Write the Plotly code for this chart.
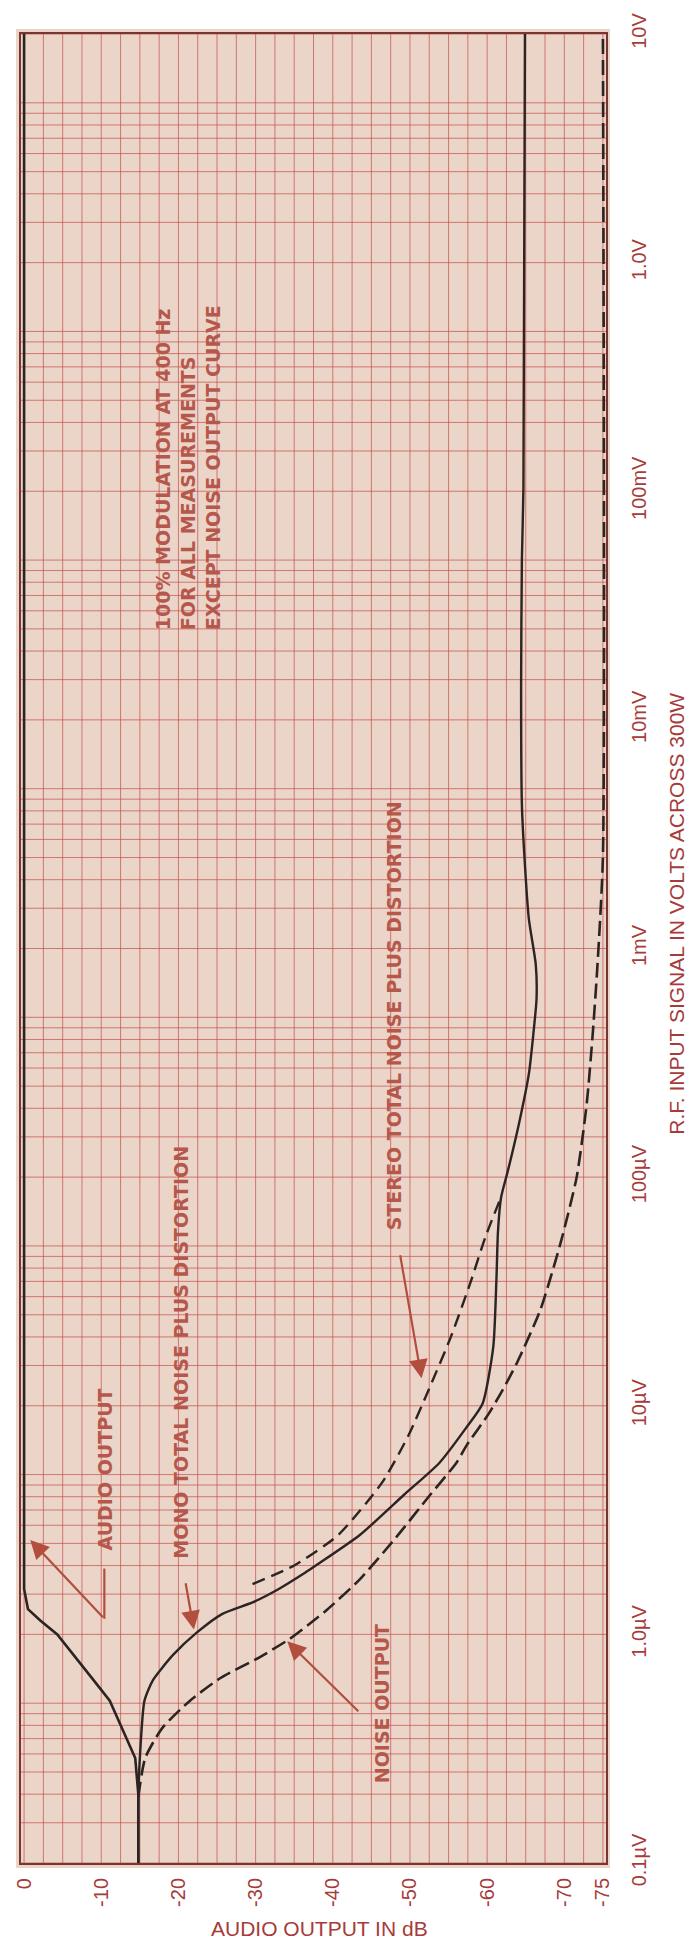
import math
import plotly.graph_objects as go

# ---------------- data ----------------
# R.F. input in volts (y, log axis) and audio output in dB (x)
AUDIO_V = [1.0e-7, 2.0e-7, 2.88e-7, 3.63e-7, 5.13e-7, 6.31e-7, 8.13e-7, 1.0e-6,
           1.15e-6, 1.29e-6, 1.58e-6, 10]
AUDIO_DB = [-14.8, -14.8, -14.4, -13.1, -11.1, -9.0, -6.4, -4.3, -2.1, -0.5, 0, 0]

MONO_V = [1.0e-7, 2.0e-7, 2.88e-7, 5.13e-7, 6.31e-7, 8.13e-7, 1.02e-6, 1.23e-6,
          1.38e-6, 1.58e-6, 1.86e-6, 2.0e-6, 2.72e-6, 4.07e-6, 5.62e-6, 7.94e-6,
          1.02e-5, 1.82e-5, 3.55e-5, 5.75e-5, 8.13e-5, 1.07e-4, 1.70e-4, 2.82e-4,
          4.27e-4, 6.03e-4, 8.51e-4, 1.35e-3, 2.63e-3, 4.27e-3, 1.38e-2, 5.01e-2,
          0.102, 10]
MONO_DB = [-14.8, -14.8, -15.0, -15.6, -16.7, -19.3, -22.4, -25.7, -29.6, -33.0,
           -36.4, -37.8, -43.5, -49.2, -53.8, -57.2, -59.4, -60.8, -61.2, -61.4,
           -61.8, -62.7, -64.1, -65.4, -66.0, -66.4, -66.3, -65.4, -64.8, -64.5,
           -64.4, -64.5, -64.7, -64.9]

STEREO_V = [1.66e-6, 2.0e-6, 2.72e-6, 4.62e-6, 7.41e-6, 1.17e-5, 2.0e-5, 3.43e-5,
            5.5e-5, 8.18e-5]
STEREO_DB = [-29.6, -35.0, -40.7, -46.4, -49.8, -52.4, -55.3, -57.8, -59.8, -61.8]

NOISE_V = [1.95e-7, 2.88e-7, 3.89e-7, 5.13e-7, 6.46e-7, 7.94e-7, 9.55e-7, 1.10e-6,
           1.26e-6, 1.74e-6, 2.63e-6, 4.07e-6, 5.62e-6, 6.76e-6, 9.12e-6, 1.17e-5,
           1.55e-5, 2.63e-5, 5.13e-5, 1.0e-4, 2.09e-4, 4.32e-4, 8.51e-4, 2.51e-3, 10]
NOISE_DB = [-14.8, -15.7, -17.9, -21.5, -25.5, -30.5, -34.4, -36.8, -39.0, -43.5,
            -48.1, -52.6, -56.0, -57.4, -60.1, -62.0, -63.9, -66.9, -69.5, -71.6,
            -72.9, -73.7, -74.3, -75.0, -75.0]

# axis ticks
TICK_V = [1e-7, 1e-6, 1e-5, 1e-4, 1e-3, 1e-2, 1e-1, 1, 10]
TICK_V_TEXT = ["0.1µV", "1.0µV", "10µV", "100µV", "1mV", "10mV", "100mV", "1.0V", "10V"]
TICK_DB = [0, -10, -20, -30, -40, -50, -60, -70, -75]
TICK_DB_TEXT = ["0", "-10", "-20", "-30", "-40", "-50", "-60", "-70", "-75"]

# graph paper rulings
GRID_DB_STEP = 2.5
PAPER_MULTIPLIERS = [1, 1.5, 2, 2.5, 3, 3.5, 4, 4.5, 5]
PAPER_EXPONENTS = list(range(-7, 2))

# labels: text, dB, volts
NOTE_TEXT = "100% MODULATION AT 400 Hz<br>FOR ALL MEASUREMENTS<br>EXCEPT NOISE OUTPUT CURVE"
LABELS = [
    ("AUDIO OUTPUT", -10.5, 5.27e-6),
    ("MONO TOTAL NOISE PLUS DISTORTION", -20.3, 1.72e-5),
    ("STEREO TOTAL NOISE PLUS DISTORTION", -47.95, 5.06e-4),
    ("NOISE OUTPUT", -46.3, 4.97e-7),
]
NOTE_POS = (-21.2, 0.127)

# arrows: head dB, head V, tail dB, tail V
ARROWS = [
    (-0.8, 2.59e-6, -10.4, 1.17e-6),     # audio output
    (-22.0, 1.05e-6, -20.9, 1.70e-6),    # mono
    (-51.5, 1.32e-5, -48.7, 4.62e-5),    # stereo
    (-34.1, 9.33e-7, -43.5, 4.54e-7),    # noise output
]
AUDIO_LEADER_DB = [-10.4, -10.4]
AUDIO_LEADER_V = [1.94e-6, 1.17e-6]

# ---------------- styling ----------------
CURVE = "#2b2422"
AXIS_RED = "#a63b39"
NOTE_RED = "#b5584b"
ARROW_RED = "#b14e3e"
GRID = "rgba(196,78,76,0.70)"
PAPER = "#ebd4c8"
FRAME = "#77362f"

# window geometry (the page body adds an 8px margin around the figure)
WIN_W, WIN_H = 694, 1946
BODY = 8
W, H = WIN_W - BODY, WIN_H - BODY
PLOT_L, PLOT_R, PLOT_T, PLOT_B = 13, 606, 23, 1863   # in window pixels
ML, MT = PLOT_L - BODY, PLOT_T - BODY
MR, MB = W - (PLOT_R - BODY), H - (PLOT_B - BODY)
PW = PLOT_R - PLOT_L
PH = PLOT_B - PLOT_T


def px_to_paper_x(px):
    return (px - PLOT_L) / PW


def px_to_paper_y(py):
    return (PLOT_B - py) / PH


fig = go.Figure()

fig.add_trace(go.Scatter(x=AUDIO_DB, y=AUDIO_V, mode="lines",
                         line=dict(color=CURVE, width=2.6), name="Audio output"))
fig.add_trace(go.Scatter(x=MONO_DB, y=MONO_V, mode="lines", line_shape="spline",
                         line=dict(color=CURVE, width=2.4, smoothing=0.6),
                         name="Mono total noise plus distortion"))
fig.add_trace(go.Scatter(x=STEREO_DB, y=STEREO_V, mode="lines", line_shape="spline",
                         line=dict(color=CURVE, width=2.4, dash="13px,7px", smoothing=0.6),
                         name="Stereo total noise plus distortion"))
fig.add_trace(go.Scatter(x=NOISE_DB, y=NOISE_V, mode="lines", line_shape="spline",
                         line=dict(color=CURVE, width=2.6, dash="15px,6px", smoothing=0.6),
                         name="Noise output"))
fig.add_trace(go.Scatter(x=AUDIO_LEADER_DB, y=AUDIO_LEADER_V, mode="lines",
                         line=dict(color=ARROW_RED, width=2.2), hoverinfo="skip"))

shapes = []
# paper sheet slightly larger than the ruled area
shapes.append(dict(type="rect", xref="paper", yref="paper",
                   x0=px_to_paper_x(PLOT_L - 5), x1=px_to_paper_x(PLOT_R + 4),
                   y0=px_to_paper_y(PLOT_B + 5), y1=px_to_paper_y(PLOT_T - 5),
                   fillcolor=PAPER, line=dict(width=0), layer="below"))
n_db = int(round(75 / GRID_DB_STEP))
for i in range(n_db + 1):
    xv = -i * GRID_DB_STEP
    shapes.append(dict(type="line", xref="x", yref="paper", x0=xv, x1=xv, y0=0, y1=1,
                       line=dict(color=GRID, width=1), layer="below"))
for e in PAPER_EXPONENTS:
    for m in PAPER_MULTIPLIERS:
        v = m * 10.0 ** e
        if 1e-7 * 0.999 <= v <= 10 * 1.001:
            shapes.append(dict(type="line", xref="paper", yref="y", x0=0, x1=1, y0=v, y1=v,
                               line=dict(color=GRID, width=1), layer="below"))

annotations = []
note_font = dict(family="DejaVu Sans", size=19, color=NOTE_RED)
annotations.append(dict(x=NOTE_POS[0], y=math.log10(NOTE_POS[1]), xref="x", yref="y",
                        text="<b>" + NOTE_TEXT.replace("<br>", "</b><br><b>") + "</b>",
                        textangle=-90, align="left", showarrow=False,
                        xanchor="center", yanchor="middle", font=note_font))
for txt, xd, yv in LABELS:
    annotations.append(dict(x=xd, y=math.log10(yv), xref="x", yref="y",
                            text="<b>" + txt + "</b>", textangle=-90, showarrow=False,
                            xanchor="center", yanchor="middle", font=note_font))
for hx, hv, tx, tv in ARROWS:
    annotations.append(dict(x=hx, y=math.log10(hv), ax=tx, ay=math.log10(tv),
                            xref="x", yref="y", axref="x", ayref="y", text="",
                            showarrow=True, arrowhead=2, arrowsize=1.7, arrowwidth=2.2,
                            arrowcolor=ARROW_RED, standoff=0, startstandoff=0))
# axis titles
annotations.append(dict(x=px_to_paper_x(316), y=px_to_paper_y(1929), xref="paper", yref="paper",
                        text="AUDIO OUTPUT IN dB", showarrow=False,
                        xanchor="center", yanchor="middle",
                        font=dict(family="Liberation Sans", size=21, color=AXIS_RED)))
annotations.append(dict(x=px_to_paper_x(678), y=px_to_paper_y(908), xref="paper", yref="paper",
                        text="R.F. INPUT SIGNAL IN VOLTS ACROSS 300W", showarrow=False,
                        textangle=-90, xanchor="center", yanchor="middle",
                        font=dict(family="Liberation Sans", size=21, color=AXIS_RED)))

fig.update_layout(
    width=W, height=H, autosize=False,
    margin=dict(l=ML, r=MR, t=MT, b=MB, pad=0),
    paper_bgcolor="white", plot_bgcolor=PAPER,
    showlegend=False,
    shapes=shapes, annotations=annotations,
)
fig.update_xaxes(range=[0.4, -75.4], tickmode="array", tickvals=TICK_DB, ticktext=TICK_DB_TEXT,
                 tickangle=-90, tickfont=dict(family="Liberation Sans", size=20, color=AXIS_RED),
                 showgrid=False, zeroline=False, showline=True, mirror=True,
                 linecolor=FRAME, linewidth=2, ticks="", ticklabelstandoff=5,
                 ticklabeloverflow="allow")
fig.update_yaxes(type="log", range=[-7, 1], side="right", tickmode="array",
                 tickvals=TICK_V, ticktext=TICK_V_TEXT, tickangle=-90,
                 tickfont=dict(family="Liberation Sans", size=20, color=AXIS_RED),
                 showgrid=False, zeroline=False, showline=True, mirror=True,
                 linecolor=FRAME, linewidth=2, ticks="", ticklabelstandoff=14,
                 ticklabeloverflow="allow")

fig.write_html("out.html")
